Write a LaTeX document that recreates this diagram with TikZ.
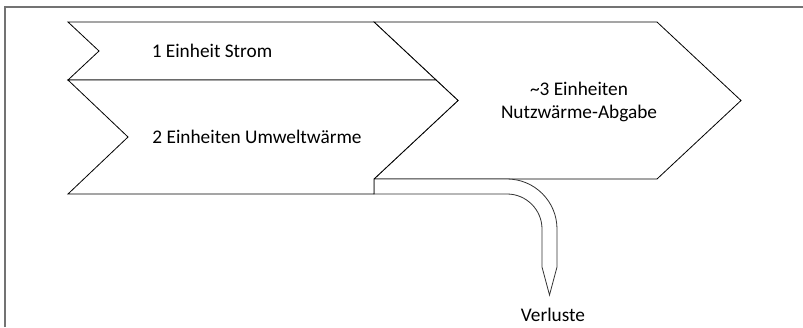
\documentclass[tikz,border=0pt]{standalone}
\usepackage{fontspec}
\setmainfont{Carlito}
\begin{document}
\begin{tikzpicture}[x=1pt,y=-1pt,
  flow/.style={draw=black, line width=0.8pt, line join=miter, fill=white},
  loss/.style={draw=black!80, line width=0.8pt, line join=miter, fill=white},
  frame/.style={draw=black!55, line width=1.6pt},
  lbl/.style={font=\fontsize{19.3}{23}\selectfont, align=center, inner sep=0pt}]
\useasboundingbox (0,0) rectangle (803,327);
% partial frame
\draw[frame] (5,327) -- (5,7) -- (803,7);
% output arrow
\draw[flow] (374,22) -- (657,22) -- (741,100.5) -- (657,179) -- (374,179) -- (458,100.5) -- cycle;
% loss arrow
\draw[loss] (374,179) -- (507,179) .. controls (534.6,179) and (557,201.4) .. (557,229)
  -- (557,267) -- (549.5,295) -- (542,267) -- (542,229)
  .. controls (542,209.7) and (526.3,194) .. (507,194) -- (374,194) -- cycle;
% input: electricity
\draw[flow] (68,22) -- (374,22) -- (436,80) -- (68,80) -- (99,51) -- cycle;
% input: ambient heat
\draw[flow] (68,80) -- (436,80) -- (458,100.5) -- (374,179) -- (374,194) -- (68,194) -- (128,137) -- cycle;
% labels
\node[lbl] (strom) at (212,51) {1 Einheit Strom};
\node[lbl] (umwelt) at (257,137) {2 Einheiten Umweltwärme};
\node[lbl] (nutz) at (579,102) {\textasciitilde3 Einheiten\\Nutzwärme-Abgabe};
\node[lbl] (verl) at (553,315) {Verluste};
\end{tikzpicture}
\end{document}
